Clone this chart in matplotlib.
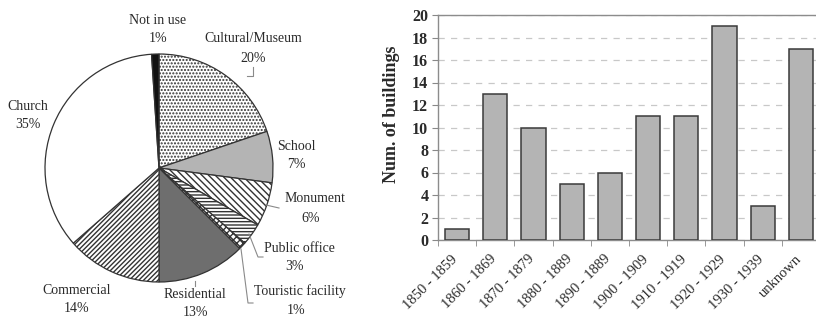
import numpy as np
import matplotlib
matplotlib.use('Agg')
from matplotlib import pyplot as plt
from matplotlib.transforms import ScaledTranslation

# pie data (counts of buildings by current use)
uses = ['Cultural/Museum', 'School', 'Monument', 'Public office', 'Touristic facility',
        'Residential', 'Commercial', 'Church', 'Not in use']
use_counts = [19, 7, 6, 3, 1, 12, 13, 34, 1]
use_pct = ['20%', '7%', '6%', '3%', '1%', '13%', '14%', '35%', '1%']

# bar data (construction period)
periods = ['1850 - 1859', '1860 - 1869', '1870 - 1879', '1880 - 1889', '1890 - 1889',
           '1900 - 1909', '1910 - 1919', '1920 - 1929', '1930 - 1939', 'unknown']
n_buildings = [1, 13, 10, 5, 6, 11, 11, 19, 3, 17]

plt.rcParams['font.family'] = ['Liberation Serif', 'DejaVu Serif']
plt.rcParams['hatch.linewidth'] = 1.0
txt = '#2a2a2a'

W, H = 816, 319
fig = plt.figure(figsize=(W/100, H/100), dpi=100)

# ---- pie ----
cx, cy, R = 159, 168, 114
ax1 = fig.add_axes([(cx-R)/W, (H-cy-R)/H, 2*R/W, 2*R/H])
faces = ['white', '#b4b4b4', 'white', 'white', 'white', '#6e6e6e', 'white', 'white', '#111111']
hatches = ['.....', None, '\\\\\\\\\\', '-----', 'xxxxx', None, '///////', None, None]
wedges, _ = ax1.pie(use_counts, startangle=90, counterclock=False, radius=1,
                    colors=faces, wedgeprops=dict(edgecolor='#333333', linewidth=0.9))
for w, h in zip(wedges, hatches):
    if h:
        w.set_hatch(h)
ax1.set_xlim(-1, 1)
ax1.set_ylim(-1, 1)
ax1.set_aspect('auto')
ax1.axis('off')

def pxy(px, py):
    return (px-cx)/R, (cy-py)/R

# label positions in pixels (name line, pct line)
lab_pos = [(253, 39), (296, 146), (315, 199), (299, 248), (300, 291),
           (195, 295), (77, 290), (28, 106), (158, 20)]
for name, pct, (px, py) in zip(uses, use_pct, lab_pos):
    x, y = pxy(px, py)
    ax1.text(x, y, name, ha='center', va='center', fontsize=10, color=txt, clip_on=False)
    dy = 17 if name == 'Residential' else 19
    x2, y2 = pxy(px - (4 if name in ('Monument', 'Public office', 'Touristic facility') else 0), py+dy)
    ax1.text(x2, y2, pct, ha='center', va='center', fontsize=10, color=txt, clip_on=False)

# leader lines
leaders = [[(253, 67), (253, 76), (247, 76)],
           [(266, 205), (279, 208)],
           [(249, 234), (258, 257), (263, 257)],
           [(241, 249), (248, 303), (253, 303)],
           [(195, 281), (195, 286)]]
for pts in leaders:
    xs, ys = zip(*[pxy(a, b) for a, b in pts])
    ax1.plot(xs, ys, color='#8a8a8a', lw=0.8, clip_on=False)

# ---- bars ----
ax2 = fig.add_axes([438/W, 1-240/H, 382/W, 225/H])
x = np.arange(len(periods))
ax2.bar(x, n_buildings, width=0.63, color='#b4b4b4', edgecolor='#3a3a3a', linewidth=1.1, zorder=3)
ax2.set_xlim(-0.5, len(periods)-0.5)
ax2.set_ylim(0, 20)
ax2.set_yticks(range(0, 21, 2))
ax2.yaxis.grid(True, linestyle=(0, (5, 5)), color='#c8c8c8', lw=0.9, zorder=0)
ax2.set_xticks(x)
ax2.set_xticklabels(periods, rotation=45, ha='right', rotation_mode='anchor', fontsize=10.5, color=txt)
ax2.tick_params(axis='x', length=0, pad=9)
off = ScaledTranslation(-6/100, 0, fig.dpi_scale_trans)
for lab in ax2.get_xticklabels():
    lab.set_transform(lab.get_transform() + off)
ax2.set_xticks(np.arange(-0.5, len(periods), 1), minor=True)
ax2.tick_params(axis='x', which='minor', length=4, color='#888888', direction='out')
ax2.tick_params(axis='y', length=4, color='#888888', labelsize=11.5, labelcolor=txt, pad=3)
for lab in ax2.get_yticklabels():
    lab.set_fontweight('bold')
ax2.set_ylabel('Num. of buildings', fontsize=13, fontweight='bold', color=txt)
ax2.yaxis.set_label_coords(-0.1, 0.56)
for s in ['left', 'bottom', 'top']:
    ax2.spines[s].set_color('#8c8c8c')
    ax2.spines[s].set_linewidth(1.0)
ax2.spines['right'].set_visible(False)

fig.savefig('out.png', dpi=100)
